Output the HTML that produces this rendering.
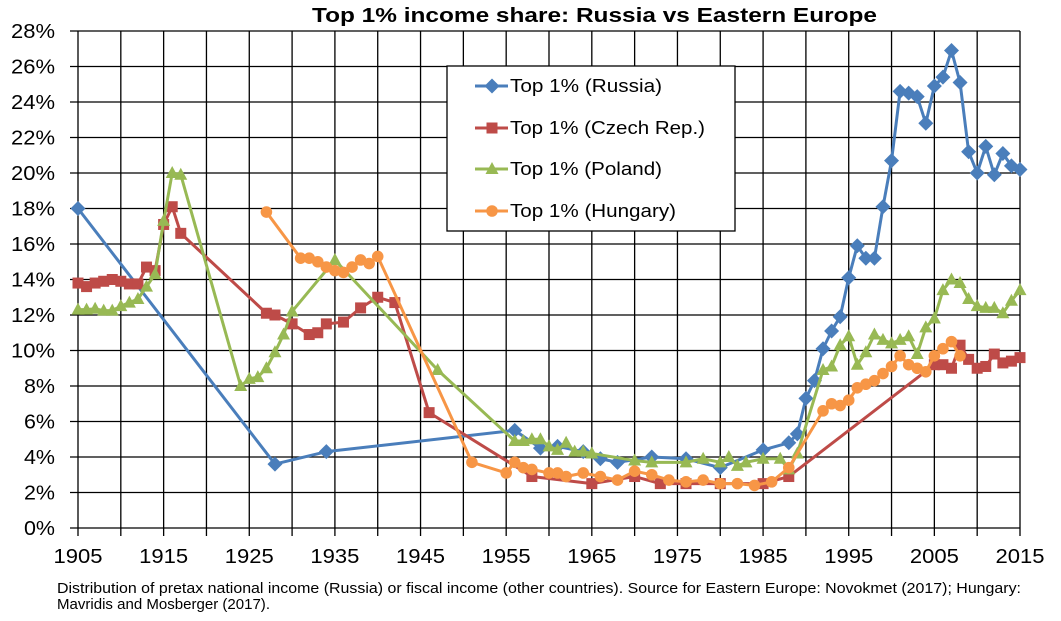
<!DOCTYPE html>
<html><head><meta charset="utf-8"><style>
body{margin:0;background:#fff;}
svg{display:block;font-family:"Liberation Sans",Arial,sans-serif;}
</style></head><body>
<svg id="s" width="1061" height="621" xmlns="http://www.w3.org/2000/svg">
<text x="312" y="22" font-size="20" font-weight="bold" textLength="565" lengthAdjust="spacingAndGlyphs">Top 1% income share: Russia vs Eastern Europe</text>
<g id="grid" stroke="#000" stroke-width="1.3"></g>
<g id="ylab" font-size="20" text-anchor="end"></g>
<g id="xlab" font-size="20"></g>
<g id="series"></g>
<rect x="447" y="66" width="288" height="165" fill="#fff" stroke="#000" stroke-width="1.3"/>
<g id="leg"></g>
<g font-size="18">
<text x="510" y="92" textLength="152" lengthAdjust="spacingAndGlyphs">Top 1% (Russia)</text>
<text x="510" y="134" textLength="195" lengthAdjust="spacingAndGlyphs">Top 1% (Czech Rep.)</text>
<text x="510" y="175" textLength="152" lengthAdjust="spacingAndGlyphs">Top 1% (Poland)</text>
<text x="510" y="217" textLength="166" lengthAdjust="spacingAndGlyphs">Top 1% (Hungary)</text>
</g>
<text x="57" y="593" font-size="14.5" textLength="964" lengthAdjust="spacingAndGlyphs">Distribution of pretax national income (Russia) or fiscal income (other countries). Source for Eastern Europe: Novokmet (2017); Hungary:</text>
<text x="57" y="609" font-size="14.5" textLength="213" lengthAdjust="spacingAndGlyphs">Mavridis and Mosberger (2017).</text>
</svg>
<script>
const NS="http://www.w3.org/2000/svg";
const X=y=>78+(y-1905)*8.5636, Y=v=>528-v*17.75;
function el(p,t,a){const e=document.createElementNS(NS,t);for(const k in a)e.setAttribute(k,a[k]);p.appendChild(e);return e;}
const g=document.getElementById('grid'),yl=document.getElementById('ylab'),xl=document.getElementById('xlab');
for(let v=0;v<=28;v+=2){el(g,'line',{x1:70,x2:1020,y1:Y(v),y2:Y(v)});const t=el(yl,'text',{x:55,y:Y(v)+7,textLength:(v<10?31:44),lengthAdjust:'spacingAndGlyphs'});t.textContent=v+'%';}
for(let y=1905;y<=2015;y+=5){el(g,'line',{x1:X(y),x2:X(y),y1:Y(28),y2:536});}
for(let y=1905;y<=2015;y+=10){const t=el(xl,'text',{x:X(y)-24.5,y:563,textLength:49,lengthAdjust:'spacingAndGlyphs'});t.textContent=y;}
const R=[[1905,18],[1928,3.6],[1934,4.3],[1956,5.5],[1959,4.5],[1961,4.6],[1964,4.3],[1966,3.9],[1968,3.7],[1972,4.0],[1976,3.9],[1980,3.4],[1985,4.4],[1988,4.8],[1989,5.3],[1990,7.3],[1991,8.3],[1992,10.1],[1993,11.1],[1994,11.9],[1995,14.1],[1996,15.9],[1997,15.2],[1998,15.2],[1999,18.1],[2000,20.7],[2001,24.6],[2002,24.5],[2003,24.3],[2004,22.8],[2005,24.9],[2006,25.4],[2007,26.9],[2008,25.1],[2009,21.2],[2010,20.0],[2011,21.5],[2012,19.9],[2013,21.1],[2014,20.4],[2015,20.2]];
const C=[[1905,13.8],[1906,13.6],[1907,13.8],[1908,13.9],[1909,14.0],[1910,13.9],[1911,13.75],[1912,13.75],[1913,14.7],[1914,14.5],[1915,17.1],[1916,18.1],[1917,16.6],[1927,12.1],[1928,12.0],[1930,11.5],[1932,10.9],[1933,11.0],[1934,11.5],[1936,11.6],[1938,12.4],[1940,13.0],[1942,12.7],[1946,6.5],[1958,2.9],[1965,2.5],[1970,2.9],[1973,2.5],[1976,2.5],[1980,2.5],[1985,2.5],[1988,2.9],[2005,9.2],[2006,9.2],[2007,9.0],[2008,10.3],[2009,9.5],[2010,9.0],[2011,9.1],[2012,9.8],[2013,9.3],[2014,9.4],[2015,9.6]];
const P=[[1905,12.3],[1906,12.3],[1907,12.35],[1908,12.25],[1909,12.25],[1910,12.5],[1911,12.7],[1912,12.9],[1913,13.6],[1914,14.3],[1915,17.3],[1916,20.0],[1917,19.9],[1924,8.0],[1925,8.4],[1926,8.5],[1927,9.0],[1928,9.9],[1929,10.9],[1930,12.2],[1935,15.1],[1947,8.9],[1956,4.9],[1957,4.9],[1958,5.0],[1959,5.0],[1960,4.6],[1961,4.4],[1962,4.8],[1963,4.3],[1964,4.3],[1965,4.2],[1970,3.8],[1972,3.7],[1976,3.7],[1978,3.9],[1980,3.7],[1981,4.0],[1982,3.5],[1983,3.7],[1985,3.9],[1987,3.9],[1988,3.3],[1989,4.2],[1992,8.9],[1993,9.1],[1994,10.3],[1995,10.8],[1996,9.2],[1997,9.9],[1998,10.9],[1999,10.6],[2000,10.4],[2001,10.6],[2002,10.8],[2003,9.8],[2004,11.3],[2005,11.8],[2006,13.4],[2007,14.0],[2008,13.8],[2009,12.9],[2010,12.5],[2011,12.4],[2012,12.4],[2013,12.1],[2014,12.8],[2015,13.4]];
const H=[[1927,17.8],[1931,15.2],[1932,15.2],[1933,15.0],[1934,14.7],[1935,14.5],[1936,14.4],[1937,14.7],[1938,15.1],[1939,14.9],[1940,15.3],[1951,3.7],[1955,3.1],[1956,3.7],[1957,3.4],[1958,3.3],[1960,3.1],[1961,3.1],[1962,2.9],[1964,3.1],[1966,2.9],[1968,2.7],[1970,3.2],[1972,3.0],[1974,2.7],[1976,2.6],[1978,2.7],[1980,2.5],[1982,2.5],[1984,2.4],[1986,2.6],[1988,3.4],[1992,6.6],[1993,7.0],[1994,6.9],[1995,7.2],[1996,7.9],[1997,8.1],[1998,8.3],[1999,8.7],[2000,9.1],[2001,9.7],[2002,9.2],[2003,9.0],[2004,8.8],[2005,9.7],[2006,10.1],[2007,10.5],[2008,9.7]];
function mk(p,type,x,y,c){
 if(type=='d')el(p,'path',{d:`M${x} ${y-7.5}L${x+7.5} ${y}L${x} ${y+7.5}L${x-7.5} ${y}Z`,fill:c});
 else if(type=='s')el(p,'rect',{x:x-5.5,y:y-5.5,width:11,height:11,fill:c});
 else if(type=='t')el(p,'path',{d:`M${x} ${y-7}L${x+6.5} ${y+5}L${x-6.5} ${y+5}Z`,fill:c});
 else el(p,'circle',{cx:x,cy:y,r:5.8,fill:c});
}
const S=document.getElementById('series');
function series(d,c,t){
 el(S,'polyline',{points:d.map(p=>X(p[0])+','+Y(p[1])).join(' '),fill:'none',stroke:c,'stroke-width':3,'stroke-linejoin':'round'});
 d.forEach(p=>mk(S,t,X(p[0]),Y(p[1]),c));
}
const cols=[['#4a7ebb','d',R],['#be4b48','s',C],['#98b954','t',P],['#f79646','o',H]];
cols.forEach(a=>series(a[2],a[0],a[1]));
const L=document.getElementById('leg');
cols.forEach((a,i)=>{const y=[86,128,169,211][i];el(L,'line',{x1:475,x2:508,y1:y,y2:y,stroke:a[0],'stroke-width':3});mk(L,a[1],492,y,a[0]);});
</script>
</body></html>
